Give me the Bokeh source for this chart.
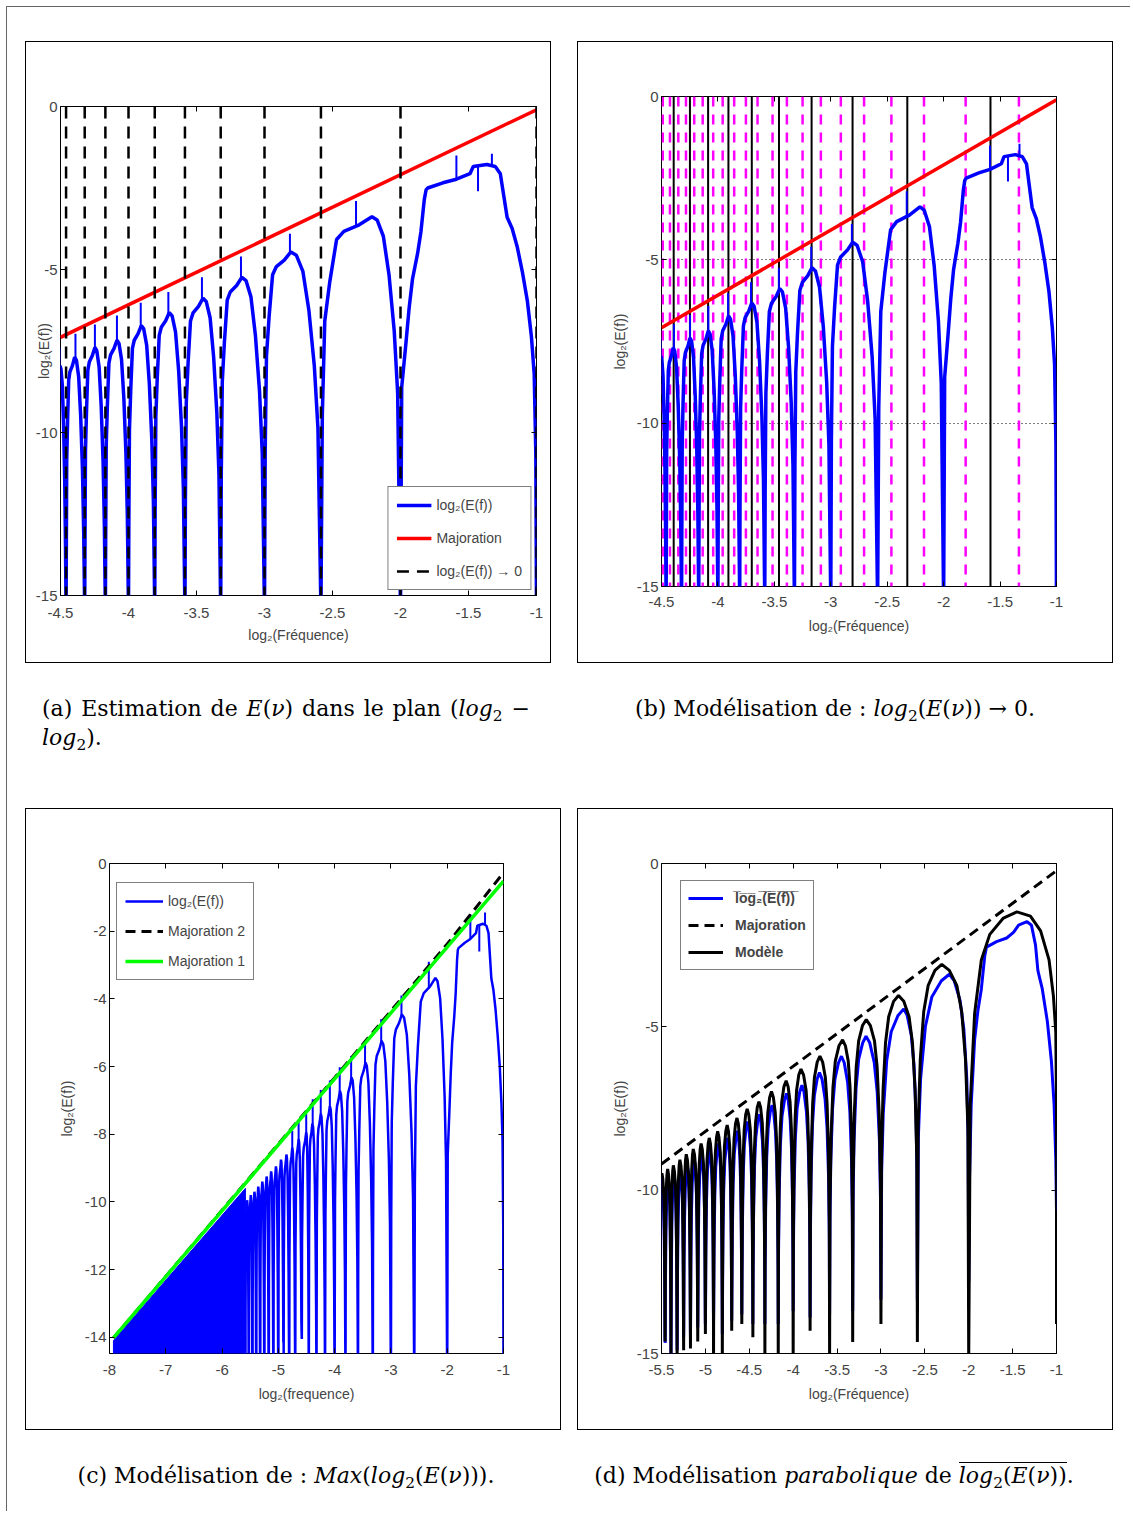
from bokeh.plotting import figure
from bokeh.models import Range1d, FixedTicker, LinearAxis, Legend, LegendItem, Div, Spacer
from bokeh.layouts import column, row
from bokeh.embed import file_html
from bokeh.resources import INLINE

# ------------------------------------------------------------------ data
# raw estimate log2(E(f)) : lobes between zeros located at log2(1/(2k))
raw_zero_x = [-5.585, -5.524, -5.459, -5.392, -5.322, -5.248, -5.170, -5.087, -5.000,
              -4.907, -4.807, -4.700, -4.585, -4.459, -4.322, -4.170, -4.000, -3.807,
              -3.585, -3.322, -3.000, -2.585, -2.000]
raw_trough_y = [-15.5, -12.4, -15.5, -11.8, -15.5, -13.0, -15.5, -12.6, -15.5,
                -13.5, -15.5, -15.5, -14.0, -15.5, -15.5, -15.5, -15.5, -15.5,
                -15.5, -15.5, -15.5, -15.5, -15.5]
raw_peak_x = [-5.555, -5.490, -5.425, -5.357, -5.285, -5.209, -5.128, -5.043, -4.953,
              -4.857, -4.753, -4.640, -4.505, -4.396, -4.247, -4.085, -3.906, -3.700,
              -3.452, -3.166, -2.806, -2.210]
raw_peak_y = [-9.95, -9.80, -9.70, -9.55, -9.40, -9.25, -9.10, -8.95, -8.75,
              -8.60, -8.40, -8.15, -7.95, -7.69, -7.39, -7.17, -6.72, -6.32,
              -5.88, -5.24, -4.46, -3.38]
# lobe outline of the raw curve (fraction of half-lobe, drop below the peak), read on lobe [-2.585,-2]
raw_left_f = [0.027, 0.075, 0.173, 0.307, 0.45, 0.75]
raw_left_dy = [-6.1, -3.2, -2.0, -0.7, -0.45, -0.25]
raw_right_f = [0.18, 0.40, 0.60, 0.78, 0.90]
raw_right_dy = [-0.10, -0.6, -1.8, -3.5, -5.4]
# last (widest) lobe of the raw curve, between -2 and -1
raw_big_x = [-1.991, -1.961, -1.937, -1.912, -1.874, -1.850, -1.825, -1.812, -1.800, -1.688,
             -1.589, -1.489, -1.465, -1.365, -1.303, -1.266, -1.241, -1.216, -1.179, -1.142,
             -1.104, -1.067, -1.037, -1.017, -1.005, -1.000]
raw_big_y = [-8.6, -7.3, -6.2, -5.3, -4.5, -3.85, -2.85, -2.56, -2.5, -2.34,
             -2.23, -2.06, -1.84, -1.78, -1.84, -2.06, -2.73, -3.4, -3.74, -4.3,
             -5.07, -5.97, -7.08, -8.2, -10.65, -15.5]
raw_spike_x = [-4.753, -4.640, -4.505, -4.390, -4.247, -4.085, -3.910, -3.707, -3.460,
               -3.173, -2.813, -2.327, -1.589, -1.328, -1.430]
raw_spike_base = [-8.45, -8.2, -8.0, -7.7, -7.4, -7.2, -6.75, -6.35, -5.9,
                  -5.3, -4.5, -3.7, -2.23, -1.8, -1.8]
raw_spike_top = [-7.9, -7.6, -7.4, -6.97, -6.69, -6.41, -6.02, -5.69, -5.24,
                 -4.6, -3.9, -2.9, -1.5, -1.45, -2.6]

# (a) majoration and the zeros
maj_x = [-4.5, -1.0]
maj_y = [-7.08, -0.10]
zero_line_x = [-4.459, -4.322, -4.170, -4.000, -3.807, -3.585, -3.322, -3.000, -2.585, -2.000, -1.000]

# (b) vertical lines
peak_line_x = [-4.392, -4.248, -4.087, -3.907, -3.700, -3.459, -3.170, -2.807, -2.322, -1.585]
mag_line_x = [-4.489, -4.425, -4.351, -4.283, -4.210, -4.135, -4.042, -3.958, -3.856, -3.752,
              -3.649, -3.516, -3.389, -3.250, -3.088, -2.911, -2.705, -2.463, -2.174, -1.805, -1.333]

# (c) dense part and majorations
c_fill_x = [-7.93, -5.585, -5.585, -7.93]
c_fill_y = [-14.1, -9.6, -14.6, -14.6]
c_maj1_x = [-7.93, -1.0]
c_maj1_y = [-14.02, -0.52]
c_maj2_x = [-7.93, -4.0, -2.0, -1.0]
c_maj2_y = [-14.02, -6.33, -2.38, -0.27]

# (d) mean curve, model and majoration
d_zero_x = [-5.524, -5.459, -5.392, -5.322, -5.248, -5.170, -5.087, -5.000, -4.907, -4.807, -4.700,
            -4.585, -4.459, -4.322, -4.170, -4.000, -3.807, -3.585, -3.322, -3.000, -2.585, -2.000]
model_peak_x = [-5.495, -5.430, -5.365, -5.290, -5.218, -5.138, -5.049, -4.956, -4.860, -4.752, -4.640,
                -4.524, -4.390, -4.247, -4.080, -3.911, -3.695, -3.437, -3.167, -2.800, -2.307]
model_peak_y = [-9.48, -9.35, -9.24, -9.07, -8.90, -8.74, -8.57, -8.40, -8.20, -8.01, -7.79,
                -7.51, -7.29, -6.98, -6.65, -6.29, -5.90, -5.40, -4.78, -4.04, -3.09]
model_trough_y = [-15.2, -14.63, -15.2, -15.2, -14.9, -14.85, -14.63, -14.4, -15.2, -15.2, -14.3,
                  -14.1, -14.5, -15.2, -15.2, -15.2, -14.3, -15.2, -14.65, -14.1, -14.65, -15.2]
model_left_f = [0.03, 0.12, 0.26, 0.44, 0.72]
model_left_dy = [-5.0, -2.9, -1.45, -0.65, -0.18]
model_right_f = [0.28, 0.56, 0.74, 0.88, 0.97]
model_right_dy = [-0.18, -0.65, -1.45, -2.9, -5.0]
model_big_x = [-1.983, -1.933, -1.856, -1.760, -1.605, -1.451, -1.297, -1.181, -1.085, -1.035, -1.008, -1.0, -1.0]
model_big_y = [-7.4, -4.6, -2.95, -2.17, -1.67, -1.48, -1.61, -2.06, -2.95, -4.06, -5.17, -7.4, -14.1]

mean_peak_x = [-5.500, -5.420, -5.355, -5.280, -5.205, -5.125, -5.040, -4.950, -4.850, -4.745, -4.635,
               -4.520, -4.385, -4.240, -4.075, -3.900, -3.700, -3.450, -3.170, -2.740, -2.220]
mean_peak_y = [-9.65, -9.68, -9.57, -9.40, -9.24, -9.07, -8.90, -8.74, -8.57, -8.40, -8.18,
               -7.90, -7.68, -7.40, -7.04, -6.79, -6.40, -5.90, -5.29, -4.45, -3.39]
mean_trough_y = [-15.0, -14.6, -15.2, -14.9, -14.5, -14.5, -14.2, -14.1, -14.0, -14.4, -14.0,
                 -13.8, -14.1, -14.1, -14.1, -13.7, -13.9, -13.8, -13.7, -13.35, -13.35, -12.8]
mean_left_f = [0.03, 0.10, 0.25, 0.45, 0.75]
mean_left_dy = [-5.0, -3.2, -1.6, -0.7, -0.2]
mean_right_f = [0.25, 0.55, 0.75, 0.90, 0.97]
mean_right_dy = [-0.2, -0.8, -1.7, -3.2, -5.0]
mean_big_x = [-1.991, -1.972, -1.933, -1.895, -1.856, -1.818, -1.798, -1.683, -1.567, -1.490, -1.432,
              -1.336, -1.285, -1.239, -1.212, -1.162, -1.104, -1.058, -1.027, -1.008, -1.000]
mean_big_y = [-9.63, -7.4, -5.4, -4.5, -3.84, -2.84, -2.56, -2.39, -2.28, -2.11, -1.89,
              -1.78, -1.89, -2.5, -3.28, -3.84, -4.84, -6.06, -7.4, -9.07, -10.63]
d_maj_x = [-5.5, -1.0]
d_maj_y = [-9.2, -0.22]

# ticks
ab_xticks = [-4.5, -4.0, -3.5, -3.0, -2.5, -2.0, -1.5, -1.0]
ab_xlabels = ["-4.5", "-4", "-3.5", "-3", "-2.5", "-2", "-1.5", "-1"]
abd_yticks = [-15, -10, -5, 0]
abd_ylabels = ["-15", "-10", "-5", "0"]
c_xticks = [-8, -7, -6, -5, -4, -3, -2, -1]
c_xlabels = ["-8", "-7", "-6", "-5", "-4", "-3", "-2", "-1"]
c_yticks = [-14, -12, -10, -8, -6, -4, -2, 0]
c_ylabels = ["-14", "-12", "-10", "-8", "-6", "-4", "-2", "0"]
d_xticks = [-5.5, -5.0, -4.5, -4.0, -3.5, -3.0, -2.5, -2.0, -1.5, -1.0]
d_xlabels = ["-5.5", "-5", "-4.5", "-4", "-3.5", "-3", "-2.5", "-2", "-1.5", "-1"]


def build_lobes(zeros, troughs, px, py, lf, ld, rf, rd):
    xs, ys = [], []
    for i in range(len(px)):
        zl, zr = zeros[i], zeros[i + 1]
        xs.append(zl); ys.append(troughs[i])
        xs += [zl + f * (px[i] - zl) for f in lf]; ys += [py[i] + d for d in ld]
        xs.append(px[i]); ys.append(py[i])
        xs += [px[i] + f * (zr - px[i]) for f in rf]; ys += [py[i] + d for d in rd]
    xs.append(zeros[-1]); ys.append(troughs[-1])
    return xs, ys


rx, ry = build_lobes(raw_zero_x, raw_trough_y, raw_peak_x, raw_peak_y,
                     raw_left_f, raw_left_dy, raw_right_f, raw_right_dy)
raw_x = rx + raw_big_x
raw_y = ry + raw_big_y
mx, my = build_lobes(d_zero_x, model_trough_y, model_peak_x, model_peak_y,
                     model_left_f, model_left_dy, model_right_f, model_right_dy)
model_x = mx + model_big_x
model_y = my + model_big_y
ex, ey = build_lobes(d_zero_x, mean_trough_y, mean_peak_x, mean_peak_y,
                     mean_left_f, mean_left_dy, mean_right_f, mean_right_dy)
mean_x = ex + mean_big_x
mean_y = ey + mean_big_y

AX_FONT = "Liberation Sans Narrow, Liberation Sans, Arial, sans-serif"
BLUE, RED, MAG, GREEN = "#0000ff", "#ff0000", "#ff00ff", "#00ff00"


def make_fig(w, h, xr, yr, bl, br, bt, bb):
    p = figure(width=w, height=h, x_range=Range1d(*xr), y_range=Range1d(*yr),
               min_border_left=bl, min_border_right=br, min_border_top=bt, min_border_bottom=bb,
               output_backend="svg", toolbar_location=None, title=None,
               styles={"box-shadow": "inset 0 0 0 1px #000", "background-color": "#fff"})
    p.frame_align = False
    p.outline_line_color = "black"
    p.outline_line_width = 1
    p.background_fill_color = "white"
    p.border_fill_color = None
    p.xgrid.visible = False
    return p


def style_axes(p, xt, xl, yt, yl, xlabel, ylabel, xls, xas, yls, yas, grid_y=False):
    for ax, t, l, std, astd, lab in ((p.xaxis[0], xt, xl, xls, xas, xlabel),
                                     (p.yaxis[0], yt, yl, yls, yas, ylabel)):
        ax.ticker = FixedTicker(ticks=t)
        ax.major_label_overrides = dict(zip(t, l))
        ax.axis_label = lab
        ax.axis_label_text_font = AX_FONT
        ax.axis_label_text_font_size = "14px"
        ax.axis_label_text_font_style = "normal"
        ax.axis_label_standoff = astd
        ax.major_label_text_font = AX_FONT
        ax.major_label_text_font_size = "15px"
        ax.major_label_standoff = std
        ax.major_tick_in = 5
        ax.major_tick_out = 0
        ax.minor_tick_line_color = None
        ax.axis_line_color = None
        ax.major_tick_line_color = "black"
    for place, t in (("right", yt), ("above", xt)):
        ax = LinearAxis(ticker=FixedTicker(ticks=t), major_label_overrides={v: "" for v in t},
                        major_label_text_color=None, major_label_standoff=0,
                        major_tick_in=5, major_tick_out=0, minor_tick_line_color=None,
                        axis_line_color=None, major_tick_line_color="black")
        p.add_layout(ax, place)
    if grid_y:
        p.ygrid.ticker = FixedTicker(ticks=yt)
        p.ygrid.grid_line_color = "black"
        p.ygrid.grid_line_dash = "1 3"
        p.ygrid.grid_line_width = 1
    else:
        p.ygrid.visible = False


def legend(items, loc, pad, spacing, gw, gh, standoff, bold=False, margin=0):
    return Legend(items=[LegendItem(label=t, renderers=[r]) for t, r in items], location=loc,
                  padding=pad, spacing=spacing, glyph_width=gw, glyph_height=gh, label_height=gh,
                  label_standoff=standoff, margin=margin, border_line_color="black",
                  border_line_width=1, background_fill_color="white", background_fill_alpha=1.0,
                  label_text_font=AX_FONT, label_text_font_size="14px",
                  label_text_font_style="bold" if bold else "normal")


Y0, Y1 = -15, 0

# ---------------- panel (a)
pa = make_fig(526, 622, (-4.5, -1.0), (Y0, Y1), 35, 15, 65, 68)
style_axes(pa, ab_xticks, ab_xlabels, abd_yticks, abd_ylabels,
           "log\u2082(Fr\u00e9quence)", "log\u2082(E(f))", 12, 6, 3, -19)
ra = pa.line(raw_x, raw_y, line_color=BLUE, line_width=3.5)
pa.segment(raw_spike_x, raw_spike_base, raw_spike_x, raw_spike_top, line_color=BLUE, line_width=2)
rr = pa.line(maj_x, maj_y, line_color=RED, line_width=3.5)
rz = pa.segment(zero_line_x, [Y1] * len(zero_line_x), zero_line_x, [Y0] * len(zero_line_x),
                line_color="black", line_width=2.5, line_dash="12 8")
pa.add_layout(legend([("log\u2082(E(f))", ra), ("Majoration", rr), ("log\u2082(E(f)) \u2192 0", rz)],
                     "bottom_right", 8, 13, 35, 20, 5, margin=5))

# ---------------- panel (b)
pb = make_fig(536, 622, (-4.5, -1.0), (Y0, Y1), 84, 57, 55, 77)
style_axes(pb, ab_xticks, ab_xlabels, abd_yticks, abd_ylabels,
           "log\u2082(Fr\u00e9quence)", "log\u2082(E(f))", 10, 8, 3, 6, grid_y=True)
pb.segment(mag_line_x, [Y1] * len(mag_line_x), mag_line_x, [Y0] * len(mag_line_x),
           line_color=MAG, line_width=2.5, line_dash="10 8")
pb.segment(peak_line_x, [Y1] * len(peak_line_x), peak_line_x, [Y0] * len(peak_line_x),
           line_color="black", line_width=2)
pb.line(raw_x, raw_y, line_color=BLUE, line_width=3.5)
pb.segment(raw_spike_x, raw_spike_base, raw_spike_x, raw_spike_top, line_color=BLUE, line_width=2)
pb.line(maj_x, maj_y, line_color=RED, line_width=3.5)

# ---------------- panel (c)
pc = make_fig(536, 622, (-8.0, -1.0), (-14.48, 0), 84, 58, 55, 77)
style_axes(pc, c_xticks, c_xlabels, c_yticks, c_ylabels,
           "log\u2082(frequence)", "log\u2082(E(f))", 11, 8, 3, 7)
pc.patch(c_fill_x, c_fill_y, fill_color=BLUE, line_color=BLUE, line_width=1)
rcb = pc.line(raw_x, raw_y, line_color=BLUE, line_width=2.5)
pc.segment(raw_spike_x, raw_spike_base, raw_spike_x, raw_spike_top, line_color=BLUE, line_width=2)
rc2 = pc.line(c_maj2_x, c_maj2_y, line_color="black", line_width=3, line_dash="10 6")
rc1 = pc.line(c_maj1_x, c_maj1_y, line_color=GREEN, line_width=3.5)
pc.add_layout(legend([("log\u2082(E(f))", rcb), ("Majoration 2", rc2), ("Majoration 1", rc1)],
                     (7, 373), 8, 10, 38, 20, 5))

# ---------------- panel (d)
pd_ = make_fig(536, 622, (-5.5, -1.0), (Y0, Y1), 84, 57, 55, 77)
style_axes(pd_, d_xticks, d_xlabels, abd_yticks, abd_ylabels,
           "log\u2082(Fr\u00e9quence)", "log\u2082(E(f))", 11, 8, 3, 6)
rdb = pd_.line(mean_x, mean_y, line_color=BLUE, line_width=3)
rdd = pd_.line(d_maj_x, d_maj_y, line_color="black", line_width=3, line_dash="10 6")
rdm = pd_.line(model_x, model_y, line_color="black", line_width=3)
over = "".join(ch + "\u0305" for ch in "log\u2082(E(f))")
pd_.add_layout(legend([(over, rdb), ("Majoration", rdd), ("Mod\u00e8le", rdm)],
                      (19, 383), 7, 7, 35, 20, 12, bold=True))

# ---------------- captions
CAP = "font-family:'DejaVu Serif',serif;font-size:22px;line-height:29px;color:#000;"
SUB = "<sub style='font-size:70%;vertical-align:-0.3em;line-height:0'>2</sub>"
LOG = "<i>log</i>" + SUB
cap_a = Div(text=f"<div style=\"{CAP}width:488px\"><div style='width:488px;text-align:justify;"
                 f"text-align-last:justify'>(a) Estimation de <i>E</i>(<i>\u03bd</i>) dans le plan "
                 f"({LOG} \u2212</div><div>{LOG}).</div></div>", width=488, height=70, margin=0)
cap_b = Div(text=f"<div style=\"{CAP}width:470px;text-align:center\">(b) Mod\u00e9lisation de : "
                 f"{LOG}(<i>E</i>(<i>\u03bd</i>)) \u2192 0.</div>", width=470, height=40, margin=0)
cap_c = Div(text=f"<div style=\"{CAP}width:492px;text-align:center\">(c) Mod\u00e9lisation de : "
                 f"<i>Max</i>({LOG}(<i>E</i>(<i>\u03bd</i>))).</div>", width=492, height=35, margin=0)
cap_d = Div(text=f"<div style=\"{CAP}width:488px;text-align:center\">(d) Mod\u00e9lisation "
                 f"<i>parabolique</i> de <span style='display:inline-block;border-top:1px solid #000;"
                 f"line-height:25px'>{LOG}(<i>E</i>(<i>\u03bd</i>))</span>.</div>",
            width=488, height=35, margin=0)

inner = column(
    Spacer(height=34, width=1124),
    row(Spacer(width=18), pa, Spacer(width=26), pb),
    Spacer(height=31),
    row(Spacer(width=35), cap_a, Spacer(width=70), cap_b),
    Spacer(height=44),
    row(Spacer(width=18), pc, Spacer(width=16), pd_),
    Spacer(height=31),
    row(Spacer(width=33), cap_c, Spacer(width=58), cap_d),
    Spacer(height=16),
    styles={"box-shadow": "-1px -1px 0 0 #666"},
)
layout = column(Spacer(height=7), row(Spacer(width=7), inner))

open("out.html", "w").write(file_html(layout, INLINE))
